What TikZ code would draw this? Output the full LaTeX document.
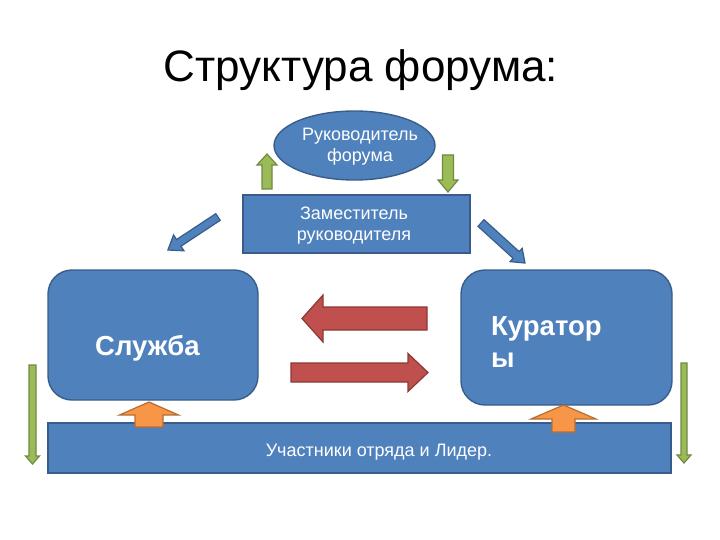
\documentclass[tikz,border=0pt]{standalone}
\usepackage{fontspec}
\setmainfont{Liberation Sans}
\usetikzlibrary{shapes.geometric}
\definecolor{slideblue}{HTML}{4F81BD}
\definecolor{slideblueline}{HTML}{385D8A}
\definecolor{slidegreen}{HTML}{9BBB59}
\definecolor{slidegreenline}{HTML}{71893F}
\definecolor{slidered}{HTML}{C0504D}
\definecolor{slideredline}{HTML}{8C3836}
\definecolor{slideorange}{HTML}{F79646}
\definecolor{slideorangeline}{HTML}{B66D31}
\tikzset{
  bluebox/.style={draw=slideblueline, fill=slideblue, line width=1.4pt, text=white, inner sep=0pt},
  greenarrow/.style={draw=slidegreenline, fill=slidegreen, line width=1.2pt},
  redarrow/.style={draw=slideredline, fill=slidered, line width=1.2pt},
  orangearrow/.style={draw=slideorangeline, fill=slideorange, line width=1.2pt},
  bluearrow/.style={draw=slideblueline, fill=slideblue, line width=1.2pt},
  smalltext/.style={text=white, font=\fontsize{18}{21}\selectfont, align=center, inner sep=0pt},
  bigtext/.style={text=white, font=\bfseries\fontsize{27.5}{32}\selectfont, align=left, inner sep=0pt}
}
% block arrow: (tail)(angle:length)(half body:half head:head length)
\def\blockarrow[#1](#2)(#3:#4)(#5:#6:#7){\begin{scope}[shift={(#2)},rotate=#3]\draw[#1] (0,-#5) -- ({#4-#7},-#5) -- ({#4-#7},-#6) -- (#4,0) -- ({#4-#7},#6) -- ({#4-#7},#5) -- (0,#5) -- cycle;\end{scope}}

\begin{document}
\begin{tikzpicture}[x=1pt, y=-1pt]
			%%%%% START %%%%%
			\useasboundingbox (0,0) rectangle (720,540);
			
			\node[anchor=base, font=\fontsize{44}{53}\selectfont] (title) at (361,82) {Структура форума:};
			
			\node[bluebox, ellipse, minimum width=161pt, minimum height=69pt] (leader) at (354.5,145.5) {};
			\node[smalltext] (leadertext) at (360,147) {Руководитель\\форума};
			
			\node[bluebox, minimum width=227pt, minimum height=58pt] (deputy) at (356.5,224) {};
			\node[smalltext] (deputytext) at (354,226) {Заместитель\\руководителя};
			
			\node[bluebox, rounded corners=24pt, minimum width=210pt, minimum height=130pt] (service) at (153,335) {};
			\node[bigtext, anchor=base west] (servicetext) at (95,355) {Служба};
			
			\node[bluebox, rounded corners=24pt, minimum width=211pt, minimum height=135pt] (curators) at (566.5,337.5) {};
			\node[bigtext, anchor=base west] (curatorstext) at (491,367) {Куратор\\ы};
			
			\node[bluebox, minimum width=623pt, minimum height=50pt] (members) at (359.5,448) {};
			\node[smalltext, anchor=base] (memberstext) at (379,456) {Участники отряда и Лидер.};
			
			% arrows
			\blockarrow[greenarrow](267,189)(90:35)(5:10:11)
			\blockarrow[greenarrow](448,155)(-90:37)(5.5:10:12)
			
			\blockarrow[bluearrow](218,217)(213.4:60)(4:9.5:13)
			\blockarrow[bluearrow](481,223)(-42.3:59.5)(4.5:9:12)
			
			\blockarrow[redarrow](427,318.5)(180:125)(11.5:23.5:21)
			\blockarrow[redarrow](291,372.5)(0:137)(9.5:19:20)
			
			\blockarrow[orangearrow](149,427)(90:25)(14:29.5:13)
			\blockarrow[orangearrow](563.5,432)(90:27)(11.5:32.5:14)
			
			\blockarrow[greenarrow](32.5,365)(-90:99)(3.5:7:8)
			\blockarrow[greenarrow](684,363)(-90:100)(3:7:8)
			%%%%% END %%%%%
\end{tikzpicture}
\end{document}
